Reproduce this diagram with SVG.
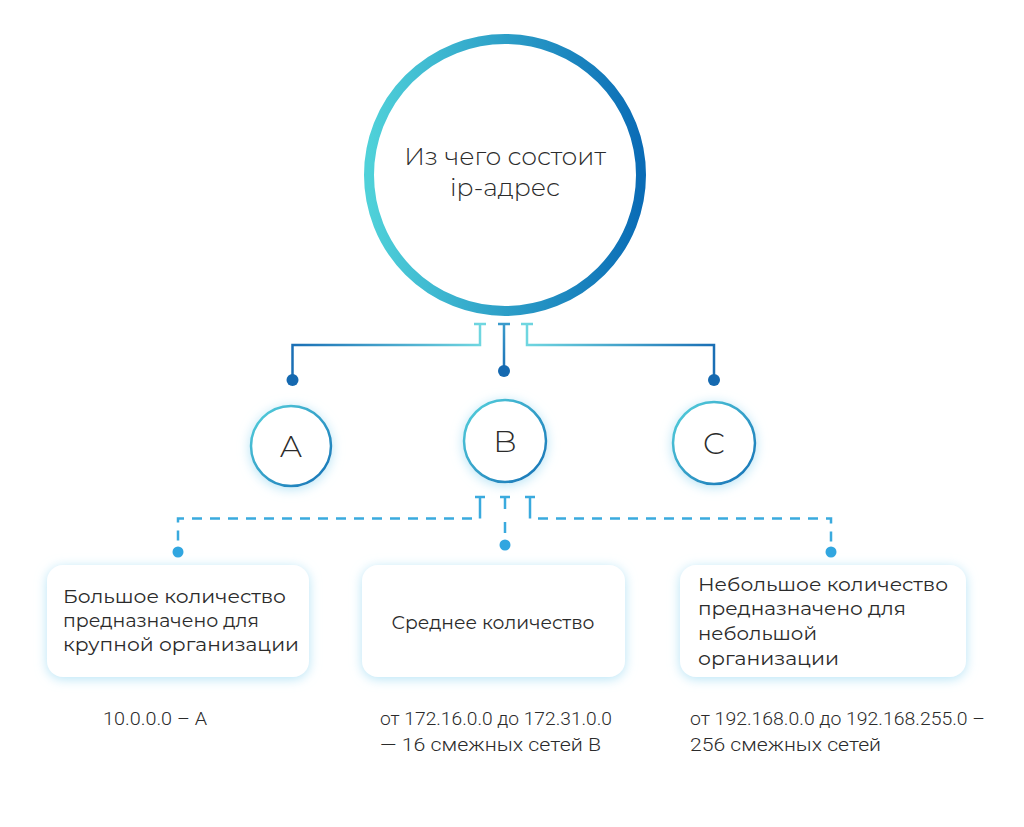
<svg xmlns="http://www.w3.org/2000/svg" width="1024" height="827" viewBox="0 0 1024 827">
<defs>
<linearGradient id="gBig" x1="0" y1="0" x2="1" y2="0">
<stop offset="0" stop-color="#4fd1d9"/>
<stop offset="1" stop-color="#0a6cb6"/>
</linearGradient>
<linearGradient id="gSmall" x1="0" y1="0" x2="1" y2="1">
<stop offset="0" stop-color="#55d2dc"/>
<stop offset="1" stop-color="#1470b6"/>
</linearGradient>
<linearGradient id="gLeft" gradientUnits="userSpaceOnUse" x1="480" y1="0" x2="292" y2="0">
<stop offset="0" stop-color="#6fd6e0"/>
<stop offset="1" stop-color="#1a6fb5"/>
</linearGradient>
<linearGradient id="gRight" gradientUnits="userSpaceOnUse" x1="527" y1="0" x2="714" y2="0">
<stop offset="0" stop-color="#6fd6e0"/>
<stop offset="1" stop-color="#1a6fb5"/>
</linearGradient>
<linearGradient id="gMid" gradientUnits="userSpaceOnUse" x1="0" y1="324" x2="0" y2="372">
<stop offset="0" stop-color="#3a9bcc"/>
<stop offset="1" stop-color="#1a6fb5"/>
</linearGradient>
<filter id="glow" x="-30%" y="-30%" width="160%" height="160%">
<feDropShadow dx="0" dy="2" stdDeviation="6" flood-color="#9fdcf3" flood-opacity="0.75"/>
</filter>
</defs>
<style>
.t{font-family:Montserrat,"Noto Sans","Open Sans",sans-serif;fill:#2b2b2b;font-weight:400}
.title{font-size:25px;font-weight:300}
.letter{font-size:31px;font-weight:300}
.box{font-size:18px}
.note{font-family:Roboto,"Noto Sans",sans-serif;font-weight:300;font-size:19px;fill:#2b2b2b}
.dash{stroke:#3aaade;stroke-width:2.5;fill:none;stroke-dasharray:10 8}
.solid{stroke:#3aaade;stroke-width:2.5;fill:none}
.card{fill:#fff;filter:url(#glow)}
</style>
<rect width="1024" height="827" fill="#fff"/>

<g id="connectors">
<g id="top-connectors" fill="none" stroke-width="2.5">
<path d="M474,324 H486 M480,324 V345 H292.5 V380" stroke="url(#gLeft)"/>
<path d="M498,324 H510 M504,324 V371" stroke="url(#gMid)"/>
<path d="M521,324 H533 M527,324 V345 H714 V380" stroke="url(#gRight)"/>
<circle cx="292.5" cy="380" r="6" fill="#1569b0"/>
<circle cx="504" cy="371" r="6" fill="#1569b0"/>
<circle cx="714" cy="380" r="6" fill="#1569b0"/>
</g>
<g id="bottom-connectors">
<path class="solid" d="M475,497 H485 M480,497 V509 M500,497 H510 M505,497 V509 M525,497 H535 M530,497 V509"/>
<path class="dash" d="M472,518.5 H178 V548"/>
<path class="dash" d="M538,518.5 H831 V548"/>
<path class="solid" d="M480,509 V518.5 M530,509 V518.5 M505,522 V533"/>
<circle cx="178" cy="552" r="5.5" fill="#31a6e0"/>
<circle cx="505" cy="545" r="5.5" fill="#31a6e0"/>
<circle cx="831" cy="552" r="5.5" fill="#31a6e0"/>
</g>
</g>

<g id="main">
<circle cx="505" cy="175" r="136" fill="#fff" stroke="url(#gBig)" stroke-width="10"/>
<text class="t title" x="505" y="165" text-anchor="middle">Из чего состоит</text>
<text class="t title" x="505" y="196" text-anchor="middle">ip-адрес</text>
</g>

<g id="node-a">
<circle cx="291" cy="446" r="40" fill="#fff" stroke="url(#gSmall)" stroke-width="2.5" filter="url(#glow)"/>
<text class="t letter" x="291" y="457" text-anchor="middle">A</text>
</g>
<g id="node-b">
<circle cx="505" cy="441" r="41" fill="#fff" stroke="url(#gSmall)" stroke-width="2.5" filter="url(#glow)"/>
<text class="t letter" x="505" y="452" text-anchor="middle">B</text>
</g>
<g id="node-c">
<circle cx="714" cy="443" r="41" fill="#fff" stroke="url(#gSmall)" stroke-width="2.5" filter="url(#glow)"/>
<text class="t letter" x="714" y="454" text-anchor="middle">C</text>
</g>

<g id="box-a">
<rect class="card" x="47" y="565" width="262" height="112" rx="16"/>
<text class="t box" x="63" y="603" textLength="223" lengthAdjust="spacingAndGlyphs">Большое количество</text>
<text class="t box" x="63" y="627" textLength="196" lengthAdjust="spacingAndGlyphs">предназначено для</text>
<text class="t box" x="63" y="651" textLength="236" lengthAdjust="spacingAndGlyphs">крупной организации</text>
</g>
<g id="box-b">
<rect class="card" x="362" y="565" width="263" height="112" rx="16"/>
<text class="t box" x="493" y="629" text-anchor="middle" font-size="17" textLength="203" lengthAdjust="spacingAndGlyphs">Среднее количество</text>
</g>
<g id="box-c">
<rect class="card" x="680" y="565" width="286" height="112" rx="16"/>
<text class="t box" x="698" y="591" textLength="250" lengthAdjust="spacingAndGlyphs">Небольшое количество</text>
<text class="t box" x="698" y="615" textLength="208" lengthAdjust="spacingAndGlyphs">предназначено для</text>
<text class="t box" x="698" y="640" textLength="119" lengthAdjust="spacingAndGlyphs">небольшой</text>
<text class="t box" x="698" y="665" textLength="141" lengthAdjust="spacingAndGlyphs">организации</text>
</g>

<g id="notes">
<text class="note" x="103" y="725" textLength="104" lengthAdjust="spacingAndGlyphs">10.0.0.0 – A</text>
<text class="note" x="380" y="725" textLength="232" lengthAdjust="spacingAndGlyphs">от 172.16.0.0 до 172.31.0.0</text>
<text class="note" x="380" y="751" textLength="221" lengthAdjust="spacingAndGlyphs">— 16 смежных сетей B</text>
<text class="note" x="690" y="725" textLength="295" lengthAdjust="spacingAndGlyphs">от 192.168.0.0 до 192.168.255.0 –</text>
<text class="note" x="690" y="751" textLength="191" lengthAdjust="spacingAndGlyphs">256 смежных сетей</text>
</g>
</svg>
